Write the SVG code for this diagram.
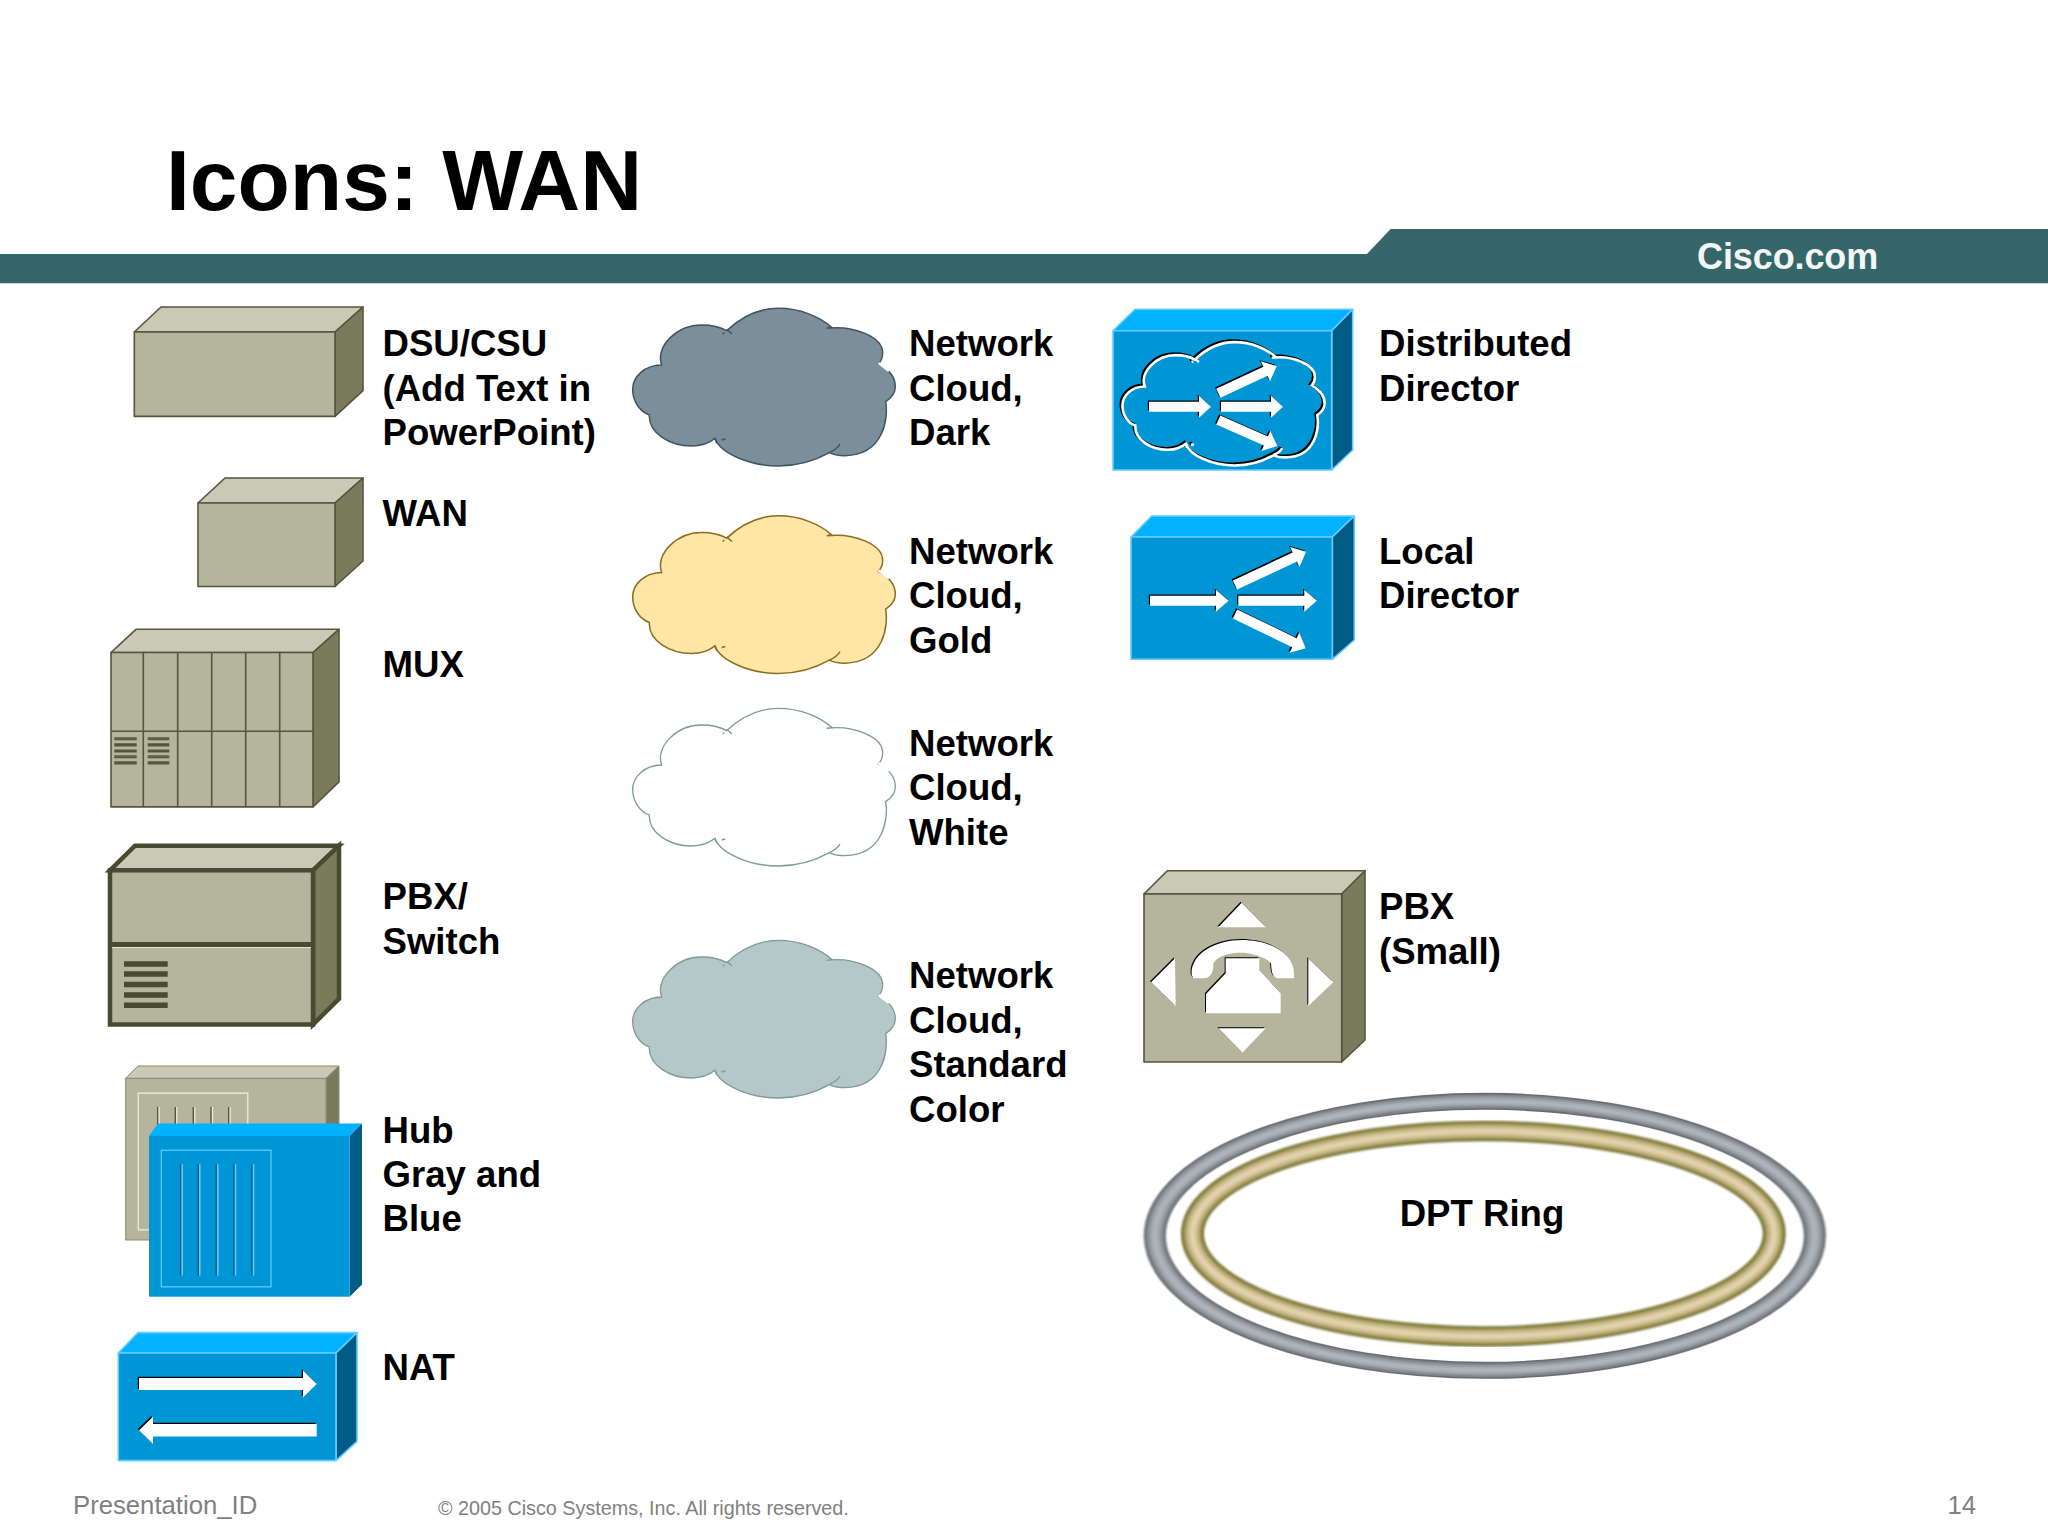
<svg xmlns="http://www.w3.org/2000/svg" xmlns:xlink="http://www.w3.org/1999/xlink" width="2048" height="1536" viewBox="0 0 2048 1536">
<style>
text{font-family:"Liberation Sans",Arial,sans-serif}
.lab{font-size:36.6px;font-weight:700;fill:#000}
.foot{fill:#808080}
.gf{fill:#b5b59d}.gt{fill:#c9c9b6}.gs{fill:#7a7a5c}
.g path,.g rect{stroke:#55553e;stroke-width:1.6;stroke-linejoin:round}
.bf{fill:#0096d6}.bt{fill:#00b2ff}.bs{fill:#005c85}
.b path,.b rect{stroke:#66ccff;stroke-width:1.6;stroke-linejoin:round}
.line{stroke:#55553e;stroke-width:1.6;fill:none}
.dk{stroke:#55553e;stroke-width:1.4;fill:none}
.lt{stroke:#eeeedd;stroke-width:1.2;fill:none}
.wh{fill:#fff}.bk{fill:#000}
.ring{fill:none}
</style>
<defs>
<filter id="soft" x="-5%" y="-5%" width="110%" height="110%"><feGaussianBlur stdDeviation="0.9"/></filter>
<g id="cloud">
<path d="M320 122C370 75 420 55 475 55C540 55 600 80 635 112L620 115C700 105 790 140 788 190C788 205 782 215 775 222C810 240 826 265 826 290C826 310 812 325 797 335C805 380 795 495 675 497C655 497 640 495 628 488C580 515 530 528 475 528C390 528 300 490 285 445C260 465 230 468 215 468C150 468 85 430 88 375C60 365 38 335 38 298C38 260 75 225 125 225C105 170 170 105 245 105C275 105 300 110 320 122Z"/>
<path fill="none" d="M320 118L336 132M628 488C645 480 655 472 660 462M285 445L290 460M305 450L316 447M308 132L313 128"/>
</g>
<path id="nat-r" d="M139 1378H303V1370.500L316.700 1384L303 1397.500V1390H139Z"/>
<path id="nat-l" d="M316.700 1424H153V1416.700L139 1430.300L153 1444V1436.500H316.700Z"/>
<polygon id="a1" points="0,-5 50,-5 50,-11 62,0 50,11 50,5 0,5"/>
<polygon id="a2" points="0,-5 52,-5 52,-11 64.500,0 52,11 52,5 0,5"/>
<polygon id="a3" points="0,-5 66,-5 66,-11 78.500,0 66,11 66,5 0,5"/>
<g id="phone">
<path d="M335 128L408 202H265Z"/><path d="M535 295L610 367L535 438Z"/><path d="M265 505H407L337 578Z"/><path d="M135 295L63 367L137 438Z"/>
<path d="M185 345C180 280 260 240 335 240C420 240 495 280 492 345V355H440C430 350 425 345 423 310C400 285 350 278 335 278C300 278 265 285 250 310C250 330 248 350 225 355H190Z"/>
<path d="M287 295H388V330L452 400V460H228V402L287 340Z"/>
</g>
</defs>
<rect width="2048" height="1536" fill="#fff"/>

<g id="header">
<text x="166" y="210" font-size="85.7" font-weight="700" fill="#000">Icons: WAN</text>
<path d="M0 254H1367L1390.600 229H2048V283.300H0Z" fill="#35666a"/>
<text x="1697" y="269" font-size="36" font-weight="700" letter-spacing="-0.100" fill="#f4f6f6">Cisco.com</text>
</g>

<g id="connectors"></g>

<g id="dsu-csu" class="g">
<path class="gt" d="M134.300 332L161 307H363L335 332Z"/>
<path class="gs" d="M335 332L363 307V390.600L335 416.400Z"/>
<rect class="gf" x="134.300" y="332" width="200.700" height="84.400"/>
<text class="lab" x="382.500" y="356">DSU/CSU</text>
<text class="lab" x="382.500" y="400.500">(Add Text in</text>
<text class="lab" x="382.500" y="444.500">PowerPoint)</text>
</g>

<g id="wan" class="g">
<path class="gt" d="M198 503L225 478H363L335 503Z"/>
<path class="gs" d="M335 503L363 478V561L335 586.500Z"/>
<rect class="gf" x="198" y="503" width="137" height="83.500"/>
<text class="lab" x="382.500" y="526">WAN</text>
</g>

<g id="mux" class="g">
<g transform="translate(0,-2.500)">
<path class="gt" d="M111 655L136 631.800H339L313 655Z"/>
<path class="gs" d="M313 655L339 631.800V784.300L313 809.400Z"/>
<rect class="gf" x="111" y="655" width="202" height="154.400"/>
<path class="line" d="M143.300 655V809.400M177.700 655V809.400M211.700 655V809.400M245.700 655V809.400M279.700 655V809.400M111 733.700H313"/>
<path class="dk" d="M114.300 740.500H136.700M114.300 746.600H136.700M114.300 752.700H136.700M114.300 758.500H136.700M114.300 764.600H136.700M147.700 740.500H169.300M147.700 746.600H169.300M147.700 752.700H169.300M147.700 758.500H169.300M147.700 764.600H169.300"/>
<path class="lt" d="M114.300 742H136.700M114.300 748.100H136.700M114.300 754.200H136.700M114.300 760H136.700M114.300 766.100H136.700M147.700 742H169.300M147.700 748.100H169.300M147.700 754.200H169.300M147.700 760H169.300M147.700 766.100H169.300"/>
</g>
<text class="lab" x="382.500" y="676.500">MUX</text>
</g>

<g id="pbx-switch">
<g transform="translate(0,-1.500)">
<path class="gt" d="M110 871.800L135 847.200H339L313 871.800Z" stroke="#4a4a33" stroke-width="4.500"/>
<path class="gs" d="M313 871.800L339 847.200V1000.300L313 1026Z" stroke="#4a4a33" stroke-width="4.500"/>
<rect class="gf" x="110" y="871.800" width="203" height="154.200" stroke="#4a4a33" stroke-width="4.500"/>
<path d="M110 946H313" stroke="#4a4a33" stroke-width="5" fill="none"/>
<path d="M112 949H311" stroke="#e5e5d0" stroke-width="1" fill="none"/>
<path d="M124 965.400H167.700M124 975.600H167.700M124 985.900H167.700M124 996.600H167.700M124 1006.800H167.700" stroke="#4a4a33" stroke-width="5.500" fill="none"/>
</g>
<text class="lab" x="382.500" y="908.500">PBX/</text>
<text class="lab" x="382.500" y="953.500">Switch</text>
</g>

<g id="hub-gray-blue">
<g transform="translate(0,-1)">
<path class="gt" d="M125.700 1079.400L138 1067H339L326 1079.400Z" stroke="#8a8a70"/>
<path class="gs" d="M326 1079.400L339 1067V1229L326 1241Z" stroke="#8a8a70"/>
<rect class="gf" x="125.700" y="1079.400" width="200.300" height="161.600" stroke="#8a8a70"/>
<rect x="138.300" y="1094.200" width="109.400" height="136.600" fill="none" stroke="#e6e6d4" stroke-width="1.500"/>
<path class="dk" d="M157.700 1108V1200M175.300 1108V1200M193.300 1108V1200M211 1108V1200M228.700 1108V1200"/>
<path class="lt" d="M159.200 1108V1200M176.800 1108V1200M194.800 1108V1200M212.500 1108V1200M230.200 1108V1200"/>
</g>
<g transform="translate(0,-1)">
<path class="bt" d="M149 1136.900L158 1124.600H362L349.700 1136.900Z"/>
<path class="bs" d="M349.700 1136.900L362 1124.600V1285.400L349.700 1297.700Z"/>
<rect class="bf" x="149" y="1136.900" width="200.700" height="160.800"/>
<rect x="161.300" y="1151.200" width="109.700" height="136.600" fill="none" stroke="#66ccff" stroke-width="1.200"/>
<path d="M180.700 1165.200V1276.400M198.300 1165.200V1276.400M216.300 1165.200V1276.400M234 1165.200V1276.400M252 1165.200V1276.400" stroke="#005c85" stroke-width="1.500" fill="none"/>
<path d="M182.200 1165.200V1276.400M199.800 1165.200V1276.400M217.800 1165.200V1276.400M235.500 1165.200V1276.400M253.500 1165.200V1276.400" stroke="#66ccff" stroke-width="1.500" fill="none"/>
</g>
<text class="lab" x="382.500" y="1142.500">Hub</text>
<text class="lab" x="382.500" y="1186.500">Gray and</text>
<text class="lab" x="382.500" y="1231">Blue</text>
</g>

<g id="nat" class="b">
<path class="bt" d="M118.300 1353L138 1332.600H357L336 1353Z"/>
<path class="bs" d="M336 1353L357 1332.600V1441.300L336 1460.600Z"/>
<rect class="bf" x="118.300" y="1353" width="217.700" height="107.600"/>
<use xlink:href="#nat-r" href="#nat-r" class="bk" transform="translate(-1.200,-1.200)" style="stroke:none"/>
<use xlink:href="#nat-r" href="#nat-r" class="wh" style="stroke:none"/>
<use xlink:href="#nat-l" href="#nat-l" class="bk" transform="translate(-1.200,-1.200)" style="stroke:none"/>
<use xlink:href="#nat-l" href="#nat-l" class="wh" style="stroke:none"/>
<text class="lab" x="382.500" y="1379.500">NAT</text>
</g>

<g id="cloud-dark">
<use xlink:href="#cloud" href="#cloud" transform="translate(620,290) scale(0.3333)" fill="#7a8f99" stroke="#3f5560" stroke-width="4.500"/>
<path d="M878.500 363L889 371" stroke="#fff" stroke-width="2.500" fill="none"/>
<text class="lab" x="909" y="356">Network</text>
<text class="lab" x="909" y="400.500">Cloud,</text>
<text class="lab" x="909" y="444.500">Dark</text>
</g>

<g id="cloud-gold">
<use xlink:href="#cloud" href="#cloud" transform="translate(620,497.500) scale(0.3333)" fill="#ffe6a6" stroke="#8a6d1f" stroke-width="4.500"/>
<path d="M878.500 570.500L889 578.500" stroke="#fff" stroke-width="2.500" fill="none"/>
<text class="lab" x="909" y="564">Network</text>
<text class="lab" x="909" y="608">Cloud,</text>
<text class="lab" x="909" y="652.500">Gold</text>
</g>

<g id="cloud-white">
<use xlink:href="#cloud" href="#cloud" transform="translate(620,690) scale(0.3333)" fill="#fff" stroke="#7f9a9a" stroke-width="4"/>
<path d="M878.500 763L889 771" stroke="#fff" stroke-width="2.500" fill="none"/>
<text class="lab" x="909" y="756">Network</text>
<text class="lab" x="909" y="800">Cloud,</text>
<text class="lab" x="909" y="844.500">White</text>
</g>

<g id="cloud-standard">
<use xlink:href="#cloud" href="#cloud" transform="translate(620,922) scale(0.3333)" fill="#b5c8c8" stroke="#7f9a9a" stroke-width="4"/>
<path d="M878.500 995L889 1003" stroke="#fff" stroke-width="2.500" fill="none"/>
<text class="lab" x="909" y="988">Network</text>
<text class="lab" x="909" y="1032.500">Cloud,</text>
<text class="lab" x="909" y="1077">Standard</text>
<text class="lab" x="909" y="1121.500">Color</text>
</g>

<g id="distributed-director" class="b">
<path class="bt" d="M1113 330.700L1135 309.300H1352.700L1331.700 330.700Z"/>
<path class="bs" d="M1331.700 330.700L1352.700 309.300V450L1331.700 470Z"/>
<rect class="bf" x="1113" y="330.700" width="218.700" height="139.300"/>
<use xlink:href="#cloud" href="#cloud" transform="translate(1111.200,326.400) scale(0.2566,0.2607)" fill="none" stroke="#000" stroke-width="11" style="stroke:#000"/>
<use xlink:href="#cloud" href="#cloud" transform="translate(1112.700,327.800) scale(0.2566,0.2607)" fill="none" stroke="#fff" stroke-width="10" style="stroke:#fff"/>
<path d="M1300 383L1314 391" style="stroke:#0096d6;stroke-width:5" fill="none"/>
<use xlink:href="#a1" href="#a1" class="bk" transform="translate(1147.800,405.500)" style="stroke:none"/>
<use xlink:href="#a1" href="#a1" class="wh" transform="translate(1149,406.700)" style="stroke:none"/>
<use xlink:href="#a1" href="#a1" class="bk" transform="translate(1219.800,405.500)" style="stroke:none"/>
<use xlink:href="#a1" href="#a1" class="wh" transform="translate(1221,406.700)" style="stroke:none"/>
<use xlink:href="#a2" href="#a2" class="bk" transform="translate(1217.100,392.100) rotate(-25)" style="stroke:none"/>
<use xlink:href="#a2" href="#a2" class="wh" transform="translate(1218.300,393.300) rotate(-25)" style="stroke:none"/>
<use xlink:href="#a2" href="#a2" class="bk" transform="translate(1217.100,418.800) rotate(23.800)" style="stroke:none"/>
<use xlink:href="#a2" href="#a2" class="wh" transform="translate(1218.300,420) rotate(23.800)" style="stroke:none"/>
<text class="lab" x="1379" y="356">Distributed</text>
<text class="lab" x="1379" y="400.500">Director</text>
</g>

<g id="local-director" class="b">
<path class="bt" d="M1131 537L1151.700 516H1354.300L1332.300 537Z"/>
<path class="bs" d="M1332.300 537L1354.300 516V640L1332.300 659.300Z"/>
<rect class="bf" x="1131" y="537" width="201.300" height="122.300"/>
<use xlink:href="#a3" href="#a3" class="bk" transform="translate(1148.800,599.500)" style="stroke:none"/>
<use xlink:href="#a3" href="#a3" class="wh" transform="translate(1150,600.700)" style="stroke:none"/>
<use xlink:href="#a3" href="#a3" class="bk" transform="translate(1237.100,599.500)" style="stroke:none"/>
<use xlink:href="#a3" href="#a3" class="wh" transform="translate(1238.300,600.700)" style="stroke:none"/>
<use xlink:href="#a3" href="#a3" class="bk" transform="translate(1233.800,583.800) rotate(-25.100)" style="stroke:none"/>
<use xlink:href="#a3" href="#a3" class="wh" transform="translate(1235,585) rotate(-25.100)" style="stroke:none"/>
<use xlink:href="#a3" href="#a3" class="bk" transform="translate(1233.800,612.800) rotate(25.800)" style="stroke:none"/>
<use xlink:href="#a3" href="#a3" class="wh" transform="translate(1235,614) rotate(25.800)" style="stroke:none"/>
<text class="lab" x="1379" y="564">Local</text>
<text class="lab" x="1379" y="608">Director</text>
</g>

<g id="pbx-small" class="g">
<path class="gt" d="M1144 894L1167.300 870.700H1365L1341.700 894Z"/>
<path class="gs" d="M1341.700 894L1365 870.700V1040L1341.700 1062Z"/>
<rect class="gf" x="1144" y="894" width="197.700" height="168"/>
<use xlink:href="#phone" href="#phone" class="bk" transform="translate(1129,859) scale(0.3333)" style="stroke:none"/>
<use xlink:href="#phone" href="#phone" class="wh" transform="translate(1130,860) scale(0.3333)" style="stroke:none"/>
<text class="lab" x="1379" y="919">PBX</text>
<text class="lab" x="1379" y="963.500">(Small)</text>
</g>

<g id="dpt-ring">
<g class="ring" filter="url(#soft)" transform="translate(1484.850,1235.850) scale(1,0.773)">
<ellipse rx="330" ry="174" stroke="#666c72" stroke-width="22"/>
<ellipse rx="330" ry="174" stroke="#80868c" stroke-width="18"/>
<ellipse rx="330" ry="174" stroke="#959ba2" stroke-width="13"/>
<ellipse rx="330" ry="174" stroke="#a6adb3" stroke-width="8"/>
<ellipse rx="330" ry="174" stroke="#aeb5bb" stroke-width="3"/>
</g>
<g class="ring" filter="url(#soft)" transform="translate(1483.350,1233.700) scale(1,0.89)">
<ellipse rx="290.900" ry="115.400" stroke="#7a7536" stroke-width="23"/>
<ellipse rx="290.900" ry="115.400" stroke="#a09758" stroke-width="18"/>
<ellipse rx="290.900" ry="115.400" stroke="#c2b584" stroke-width="13"/>
<ellipse rx="290.900" ry="115.400" stroke="#d8c89e" stroke-width="8"/>
<ellipse rx="290.900" ry="115.400" stroke="#e6d4b0" stroke-width="3"/>
</g>
<text class="lab" x="1482" y="1226" text-anchor="middle">DPT Ring</text>
</g>

<g id="footer">
<text class="foot" x="73" y="1514" font-size="25.700">Presentation_ID</text>
<text class="foot" x="438" y="1515" font-size="19.750">© 2005 Cisco Systems, Inc. All rights reserved.</text>
<text class="foot" x="1976" y="1514" font-size="25.700" text-anchor="end">14</text>
</g>
</svg>
